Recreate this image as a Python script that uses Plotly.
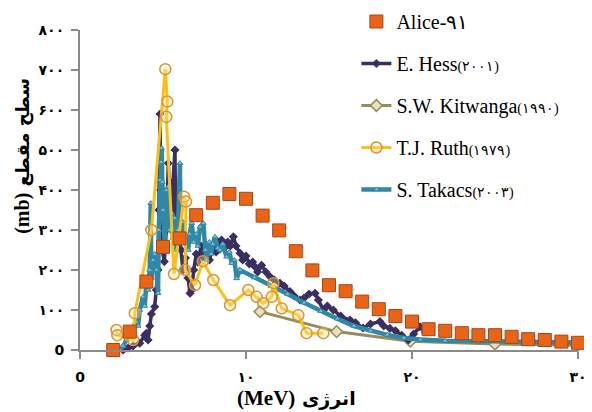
import plotly.graph_objects as go

# ---------------- data ----------------
alice_x = list(range(2, 31))
alice_y = [0, 46, 171, 258, 279, 337, 368, 390, 378, 336, 299, 247, 199, 162, 147,
           121, 102, 85, 71, 52, 48, 42, 37, 37, 33, 27, 25, 21, 18]

hess_x = [2.6, 2.9, 3.2, 3.6, 3.9, 4.0, 4.1, 4.2, 4.3, 4.5, 4.6, 4.7, 4.75, 4.82, 4.86,
          4.95, 5.08, 5.2, 5.32, 5.4, 5.5, 5.6, 5.72, 5.76, 5.85, 5.95, 6.1, 6.2, 6.35,
          6.5, 6.63, 6.73, 6.85, 7.0, 7.1, 7.3, 7.45, 7.6, 7.8, 8.0, 8.2, 8.35, 8.53,
          8.7, 8.9, 9.05, 9.24, 9.4, 9.64, 9.8, 10.0, 10.2, 10.4, 10.54, 10.7, 10.94,
          11.2, 11.45, 11.7, 12.05, 12.3, 12.65, 12.9, 13.25, 13.5, 13.8, 14.16, 14.36,
          14.66, 14.9, 15.26, 15.7, 16.27, 16.6, 17.05, 17.5, 18.07, 18.3, 18.67, 19.0,
          19.38, 19.78, 20.1, 20.48, 20.8]
hess_y = [0, 5, 10, 17, 37, 42, 25, 60, 90, 108, 150, 200, 350, 590, 400,
          250, 221, 300, 467, 380, 300, 420, 500, 350, 280, 300, 250, 200, 230,
          180, 142, 150, 200, 240, 220, 260, 230, 250, 225, 260, 245, 270, 275,
          255, 270, 260, 283, 260, 242, 225, 235, 215, 220, 208, 195, 212,
          195, 183, 175, 167, 160, 146, 135, 125, 130, 140, 142, 125,
          100, 110, 100, 85, 75, 68, 55, 65, 71, 60, 54, 48,
          37, 25, 40, 58, 45]

kit_x = [10.84, 15.46, 19.9, 25.0, 30.0]
kit_y = [96, 46, 22, 15, 12]

ruth_x = [2.2, 2.25, 3.2, 3.3, 4.3, 5.14, 5.26, 5.2, 5.66, 6.27, 6.39, 6.33, 6.93,
          7.4, 8.03, 9.04, 10.14, 10.64, 11.04, 11.55, 11.65, 12.15, 13.15, 13.65, 14.66]
ruth_y = [50, 37, 25, 92, 300, 702, 621, 583, 190, 383, 371, 200, 162,
          222, 175, 112, 150, 133, 117, 133, 167, 104, 87, 42, 42]

tak_x = [2.4, 2.6, 2.8, 3.0, 3.1, 3.2, 3.4, 3.5, 3.6, 3.8, 3.9, 4.0, 4.1, 4.2, 4.26,
         4.3, 4.4, 4.5, 4.6, 4.7, 4.75, 4.82, 4.88, 4.92, 4.96, 5.0, 5.1, 5.2, 5.32,
         5.4, 5.52, 5.6, 5.7, 5.8, 5.9, 6.02, 6.05, 6.2, 6.35, 6.52, 6.6, 6.73, 6.85,
         7.0, 7.1, 7.23, 7.43, 7.55, 7.63, 7.8, 7.9, 8.0, 8.13, 8.3, 8.43, 8.6, 8.83,
         9.0, 9.14, 9.3, 9.44, 9.64, 10.5, 11.5, 12.5, 13.5, 14.5, 15.5, 16.5, 17.5,
         18.5, 19.5, 20.5, 22, 24, 26, 28, 30]
tak_y = [0, 10, 25, 40, 30, 58, 70, 60, 100, 133, 110, 170, 150, 200, 367,
         180, 225, 240, 200, 142, 300, 425, 470, 505, 420, 350, 260, 400, 408,
         300, 342, 280, 330, 250, 300, 467, 292, 320, 270, 250, 290, 317, 270,
         290, 260, 308, 317, 250, 225, 270, 240, 265, 283, 255, 250, 265, 233,
         245, 217, 225, 179, 200, 181, 160, 140, 118, 97, 78, 60, 48,
         38, 30, 26, 23, 21, 21, 20, 19]

y_ticks = [0, 100, 200, 300, 400, 500, 600, 700, 800]
y_tick_text = ["0", "۱۰۰", "۲۰۰", "۳۰۰", "۴۰۰", "۵۰۰", "۶۰۰", "۷۰۰", "۸۰۰"]
x_ticks = [0, 10, 20, 30]
x_tick_text = ["0", "۱۰", "۲۰", "۳۰"]

names = ["Alice-۹۱",
         "E. Hess<span style='font-size:14px'>(۲۰۰۱)</span>",
         "S.W. Kitwanga<span style='font-size:14px'>(۱۹۹۰)</span>",
         "T.J. Ruth<span style='font-size:14px'>(۱۹۷۹)</span>",
         "S. Takacs<span style='font-size:14px'>(۲۰۰۳)</span>"]

# ---------------- figure ----------------
fig = go.Figure()

fig.add_trace(go.Scatter(
    x=kit_x, y=kit_y, mode="lines+markers", name=names[2], legendgroup="c", legendrank=3,
    line=dict(color="#968C5C", width=3),
    marker=dict(symbol="diamond", size=9, color="#E8E2C0", line=dict(color="#968C5C", width=1.5)),
    cliponaxis=False))

fig.add_trace(go.Scatter(
    x=hess_x, y=hess_y, mode="lines+markers", name=names[1], legendgroup="b", legendrank=2,
    line=dict(color="#3A2E62", width=3.5),
    marker=dict(symbol="diamond", size=7, color="#3A2E62"),
    cliponaxis=False))

fig.add_trace(go.Scatter(
    x=tak_x, y=tak_y, mode="lines+markers", name=names[4], legendgroup="e", legendrank=5,
    line=dict(color="#2E88A6", width=4.5),
    marker=dict(symbol="triangle-up", size=5, color="#7FC0D6", line=dict(color="#2E88A6", width=1)),
    cliponaxis=False))

fig.add_trace(go.Scatter(
    x=ruth_x, y=ruth_y, mode="lines+markers", name=names[3], legendgroup="d", legendrank=4,
    line=dict(color="#FDBF14", width=3),
    marker=dict(symbol="circle", size=11, color="rgba(255,225,150,0.35)",
                line=dict(color="#D99438", width=1.5)),
    cliponaxis=False))

fig.add_trace(go.Scatter(
    x=alice_x, y=alice_y, mode="markers", name=names[0], legendgroup="a", legendrank=1,
    marker=dict(symbol="square", size=13, color="#EA6418", line=dict(color="#A8461A", width=1)),
    cliponaxis=False))

axis_font = dict(family="DejaVu Sans", size=14, color="#000", weight="bold")

# the page adds an 8px body margin, so the figure is 8px smaller than the window
fig.update_layout(
    width=584, height=404,
    margin=dict(l=72, r=14, t=22, b=62, autoexpand=False),
    paper_bgcolor="white", plot_bgcolor="white",
    showlegend=True,
    legend=dict(x=0.555, y=1.0875, xanchor="left", yanchor="top",
                bgcolor="rgba(255,255,255,0)", borderwidth=0,
                font=dict(family="Liberation Serif", size=20, color="#000"),
                tracegroupgap=13, itemwidth=30, maxheight=400),
    xaxis=dict(range=[0, 30], tickvals=x_ticks, ticktext=x_tick_text,
               showgrid=False, zeroline=False, showline=True, linecolor="#8a8a8a",
               linewidth=2, ticks="outside", tickcolor="#8a8a8a", ticklen=7, tickwidth=1.5,
               tickfont=axis_font, ticklabelstandoff=6, automargin=False),
    yaxis=dict(range=[0, 800], tickvals=y_ticks, ticktext=y_tick_text,
               showgrid=False, zeroline=False, showline=True, linecolor="#8a8a8a",
               linewidth=2, ticks="outside", tickcolor="#8a8a8a", ticklen=7, tickwidth=1.5,
               tickfont=axis_font, ticklabelstandoff=4, automargin=False),
    annotations=[
        dict(text="<span style='font-family:Liberation Serif;font-size:20px'>(mb)</span> سطح مقطع",
             xref="paper", yref="paper", x=-0.117, y=0.606, xanchor="center", yanchor="middle",
             textangle=-90, showarrow=False,
             font=dict(family="DejaVu Sans", size=18, color="#000", weight="bold")),
        dict(text="<span style='font-family:Liberation Serif;font-size:21px'>(MeV)</span> انرژی",
             xref="paper", yref="paper", x=0.434, y=-0.15, xanchor="center", yanchor="middle",
             showarrow=False,
             font=dict(family="DejaVu Sans", size=19, color="#000", weight="bold")),
    ],
)

fig.write_html("out.html")
